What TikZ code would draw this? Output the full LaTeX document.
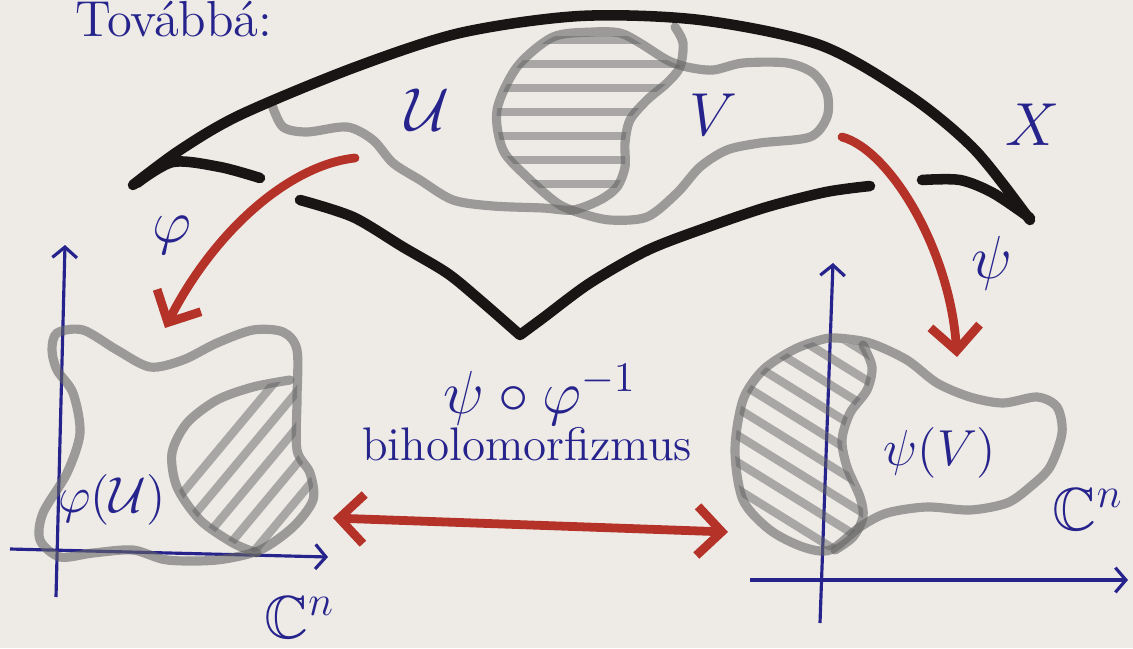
\documentclass[tikz,border=0pt]{standalone}
\usepackage{fontspec}
\usepackage{amssymb}
\usetikzlibrary{arrows.meta}
\definecolor{paper}{RGB}{238,235,231}
\definecolor{ink}{RGB}{38,36,140}
\definecolor{felt}{RGB}{180,50,40}
\definecolor{marker}{RGB}{100,100,100}
\definecolor{coal}{RGB}{25,21,21}
\tikzset{barb/.tip={Straight Barb[length=7pt,width=14pt]}}

\begin{document}
\begin{tikzpicture}[x=0.01cm,y=-0.01cm,
  rim/.style={marker,opacity=.6,line width=2.6pt,line cap=round,line join=round},
  hatch/.style={marker,opacity=.5,line width=2.4pt,line cap=round},
  edge/.style={coal,line width=3pt,line cap=round,line join=round},
  map/.style={felt,line width=2.5pt,line cap=round,-barb},
  axis/.style={ink,line width=.9pt,-{Straight Barb[length=3pt,width=7pt]}},
  lbl/.style={ink,font=\LARGE}]
\useasboundingbox (0,0) rectangle (1133,648);
\fill[paper] (0,0) rectangle (1133,648);
\newcommand{\ulobe}{plot[smooth] coordinates {(272,105) (283,127) (307,132) (347,127) (373,140) (393,163) (420,180) (453,200) (493,206) (543,208) (573,210) (600,200) (617,187) (625,167) (625,143) (630,120) (647,100) (667,83) (680,67) (683,43) (675,27)}}
\newcommand{\vlobe}{plot[smooth cycle] coordinates {(593,32) (620,33) (640,43) (667,60) (687,67) (713,70) (743,63) (787,63) (813,73) (827,93) (827,117) (810,137) (760,143) (727,150) (700,167) (677,193) (647,217) (610,220) (580,213) (557,203) (527,177) (503,150) (497,110) (517,67) (553,37)}}
\newcommand{\lblob}{plot[smooth cycle] coordinates {(57,333) (83,330) (117,350) (150,367) (183,360) (217,343) (253,330) (283,332) (297,350) (297,400) (297,450) (310,473) (313,500) (293,527) (260,550) (217,560) (167,560) (133,550) (93,553) (60,557) (40,540) (43,513) (67,473) (80,433) (73,393) (57,370) (52,350)}}
\newcommand{\loval}{plot[smooth] coordinates {(290,380) (253,387) (217,400) (187,423) (172,453) (177,487) (200,520) (233,543) (257,553)}}
\newcommand{\rblob}{plot[smooth cycle] coordinates {(837,338) (870,343) (907,360) (937,383) (970,397) (1003,403) (1037,397) (1057,407) (1062,433) (1050,467) (1030,487) (1007,503) (970,510) (927,507) (887,513) (860,527) (830,550) (803,547) (770,530) (743,500) (735,450) (743,400) (763,370) (793,350) (820,340)}}
\newcommand{\roval}{plot[smooth] coordinates {(863,345) (872,367) (867,390) (850,413) (842,440) (847,467) (860,497) (863,517) (853,537) (835,550)}}
  %%%%%%%%%%%%%%%% axes of the two charts
  \draw[axis] (56,597) -- (65,245);
  \draw[axis] (10,549) -- (328,557);
  \draw[axis] (820,623) -- (833,263);
  \draw[axis] (750,580) -- (1128,580);
  %%%%%%%%%%%%%%%% U and V in X, overlap hatched
  \begin{scope}
    \clip \ulobe -- (675,0) -- (272,0) -- cycle;
    \clip \vlobe;
    \foreach \y in {40,64,...,190} \draw[hatch] (480,\y) -- (700,\y);
  \end{scope}
  \draw[rim] \ulobe;
  \draw[rim] \vlobe;
  %%%%%%%%%%%%%%%% images in C^n
  \begin{scope}
    \clip \lblob;
    \clip \loval -- (340,570) -- (340,370) -- cycle;
    \foreach \c in {110,140,...,350} \draw[hatch] (\c,580) -- ++(220,-264);
  \end{scope}
  \draw[rim] \lblob;
  \draw[rim] \loval;
  \begin{scope}
    \clip \rblob;
    \clip \roval -- (700,560) -- (700,330) -- cycle;
    \foreach \y in {250,277,...,560} \draw[hatch] (700,\y) -- ++(200,124);
  \end{scope}
  \draw[rim] \rblob;
  \draw[rim] \roval;
  %%%%%%%%%%%%%%%% the manifold X
  \draw[edge] plot[smooth] coordinates {(133,185) (180,150) (240,115) (353,68) (460,33) (580,16) (700,20) (820,45) (910,96) (975,150) (1030,220)};
  \draw[edge] plot[smooth] coordinates {(137,183) (173,162) (220,167) (260,178)};
  \draw[edge] plot[smooth] coordinates {(300,200) (353,217) (403,247) (447,273) (480,300) (520,335)}
    plot[smooth] coordinates {(520,335) (543,318) (590,283) (648,250) (708,227) (767,207) (826,192) (870,186)};
  \draw[edge] plot[smooth] coordinates {(922,180) (960,180) (993,193) (1030,218)};
  %%%%%%%%%%%%%%%% charts
  \coordinate (phiA) at (355,158);
  \coordinate (phiB) at (165,328);
  \coordinate (psiA) at (842,137);
  \coordinate (psiB) at (957,357);
  \coordinate (mapL) at (333,518);
  \coordinate (mapR) at (728,532);
  \draw[map] (phiA) .. controls (290,165) and (215,230) .. (phiB);
  \draw[map] (psiA) .. controls (890,150) and (950,250) .. (psiB);
  \draw[map,barb-barb] (mapL) -- (mapR);
  %%%%%%%%%%%%%%%% labels
  \node[ink,font=\Large,anchor=base west] (tov) at (63,36) {Továbbá:};
  \node[lbl] (U) at (428,110) {$\mathcal{U}$};
  \node[lbl] (V) at (713,115) {$V$};
  \node[lbl] (X) at (1033,125) {$X$};
  \node[lbl] (phi) at (172,235) {$\varphi$};
  \node[lbl] (psi) at (992,263) {$\psi$};
  \node[ink,font=\Large] (phiU) at (112,500) {$\varphi(\mathcal{U})$};
  \node[ink,font=\Large] (psiV) at (940,453) {$\psi(V)$};
  \node[lbl] (comp) at (540,395) {$\psi\circ\varphi^{-1}$};
  \node[ink,font=\fontsize{13.4}{16}\selectfont,anchor=base] (biho) at (527,460) {biholomorfizmus};
  \node[lbl,anchor=base west] (cnl) at (252,638) {$\mathbb{C}^n$};
  \node[lbl,anchor=base east,inner sep=0pt] (cnr) at (1124,530) {$\mathbb{C}^n$};
\end{tikzpicture}
\end{document}
